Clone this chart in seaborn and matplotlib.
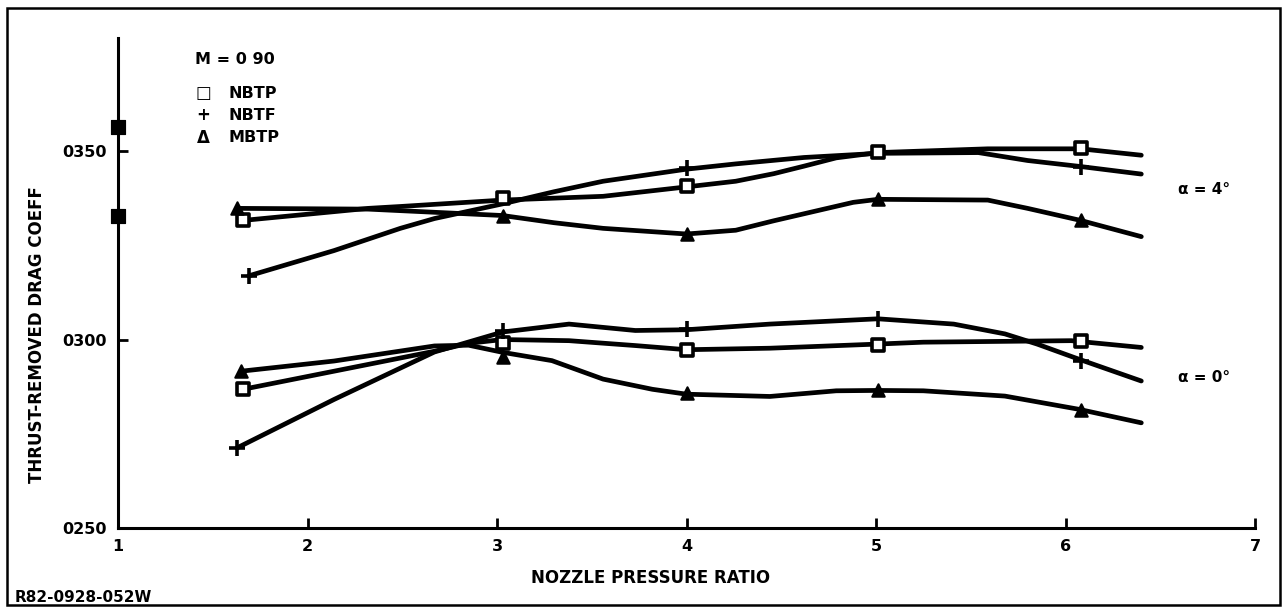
import matplotlib
matplotlib.use("Agg")
import matplotlib.pyplot as plt
import numpy as np
import pandas as pd
import seaborn as sns
from matplotlib.patches import Rectangle

sns.set_theme(style="ticks")
plt.rcParams["font.family"] = ["DejaVu Sans"]
plt.rcParams["font.weight"] = "bold"
plt.rcParams["text.color"] = "black"
plt.rcParams["axes.labelcolor"] = "black"

# x axis: nozzle pressure ratio, y axis: thrust-removed drag coefficient
x_ticks = [1, 2, 3, 4, 5, 6, 7]
y_ticks = [0.0250, 0.0300, 0.0350]
y_tick_labels = ["0250", "0300", "0350"]

configs = ["NBTP", "NBTF", "MBTP"]

# jet-off points at NPR = 1 (filled squares)
jet_off_npr = [1.0, 1.0]
jet_off_cd = [0.03564, 0.03329]

# test points, alpha = 4 deg
a4_nbtp_npr = [1.66, 3.03, 4.0, 5.01, 6.08]
a4_nbtp_cd = [0.03316, 0.03375, 0.03407, 0.03498, 0.03508]
a4_nbtf_npr = [1.69, 4.0, 6.08]
a4_nbtf_cd = [0.03169, 0.03455, 0.03459]
a4_mbtp_npr = [1.63, 3.03, 4.0, 5.01, 6.08]
a4_mbtp_cd = [0.03348, 0.03327, 0.03281, 0.03373, 0.03316]

# test points, alpha = 0 deg
a0_nbtp_npr = [1.66, 3.03, 4.0, 5.01, 6.08]
a0_nbtp_cd = [0.02868, 0.02992, 0.02972, 0.02985, 0.02996]
a0_nbtf_npr = [1.63, 3.03, 4.0, 5.01, 6.08]
a0_nbtf_cd = [0.02713, 0.03023, 0.03028, 0.03055, 0.02943]
a0_mbtp_npr = [1.65, 3.03, 4.0, 5.01, 6.08]
a0_mbtp_cd = [0.02916, 0.02955, 0.02857, 0.02865, 0.02812]

# faired curves
a4_nbtp_fx = [1.66, 2.32, 2.49, 3.03, 3.56, 4.0, 4.26, 4.46, 4.62, 4.79, 5.01, 5.59, 6.08, 6.40]
a4_nbtp_fy = [0.03316, 0.03348, 0.03353, 0.03370, 0.03380, 0.03405, 0.03420, 0.03440,
              0.03460, 0.03482, 0.03496, 0.03506, 0.03506, 0.03489]
a4_nbtf_fx = [1.69, 2.14, 2.49, 2.67, 3.03, 3.30, 3.56, 4.0, 4.26, 4.62, 5.01, 5.54, 5.80, 6.08, 6.40]
a4_nbtf_fy = [0.03169, 0.03236, 0.03295, 0.03321, 0.03360, 0.03392, 0.03420, 0.03452, 0.03466,
              0.03483, 0.03494, 0.03496, 0.03475, 0.03459, 0.03439]
a4_mbtp_fx = [1.63, 2.0, 2.32, 3.03, 3.30, 3.56, 4.0, 4.26, 4.46, 4.88, 5.01, 5.59, 5.80, 6.08, 6.40]
a4_mbtp_fy = [0.03348, 0.03347, 0.03346, 0.03329, 0.03310, 0.03295, 0.03280, 0.03290, 0.03315,
              0.03364, 0.03372, 0.03370, 0.03348, 0.03316, 0.03273]

a0_nbtp_fx = [1.66, 2.14, 2.67, 2.85, 3.03, 3.38, 3.73, 4.0, 4.44, 5.01, 5.25, 6.03, 6.40]
a0_nbtp_fy = [0.02868, 0.02916, 0.02969, 0.02990, 0.03000, 0.02997, 0.02984, 0.02973,
              0.02977, 0.02988, 0.02993, 0.02997, 0.02979]
a0_nbtf_fx = [1.63, 2.14, 2.67, 3.03, 3.38, 3.73, 4.0, 4.44, 5.01, 5.41, 5.68, 5.85, 6.07, 6.40]
a0_nbtf_fy = [0.02713, 0.02841, 0.02967, 0.03020, 0.03041, 0.03024, 0.03026, 0.03041,
              0.03055, 0.03041, 0.03015, 0.02988, 0.02948, 0.02890]
a0_mbtp_fx = [1.65, 2.14, 2.67, 2.85, 3.03, 3.29, 3.56, 3.82, 4.0, 4.44, 4.79, 5.01, 5.25,
              5.68, 6.07, 6.40]
a0_mbtp_fy = [0.02916, 0.02943, 0.02983, 0.02985, 0.02966, 0.02944, 0.02895, 0.02868,
              0.02855, 0.02849, 0.02864, 0.02865, 0.02864, 0.02850, 0.02815, 0.02779]

curves = pd.concat([
    pd.DataFrame({"npr": fx, "cd": fy, "curve": name})
    for name, fx, fy in [
        ("a4 NBTP", a4_nbtp_fx, a4_nbtp_fy), ("a4 NBTF", a4_nbtf_fx, a4_nbtf_fy),
        ("a4 MBTP", a4_mbtp_fx, a4_mbtp_fy), ("a0 NBTP", a0_nbtp_fx, a0_nbtp_fy),
        ("a0 NBTF", a0_nbtf_fx, a0_nbtf_fy), ("a0 MBTP", a0_mbtp_fx, a0_mbtp_fy),
    ]
], ignore_index=True)

W, H = 1286, 610
fig = plt.figure(figsize=(W / 100, H / 100), dpi=100)
ax = fig.add_axes([118 / W, 82 / H, (1255 - 118) / W, (528 - 38) / H])

sns.lineplot(data=curves, x="npr", y="cd", units="curve", estimator=None, sort=False,
             color="black", linewidth=3.4, ax=ax, legend=False)

ink = "black"
for npr, cd in [(a4_nbtp_npr, a4_nbtp_cd), (a0_nbtp_npr, a0_nbtp_cd)]:
    sns.scatterplot(x=npr, y=cd, marker="s", s=70, facecolor="white", edgecolor=ink,
                    linewidth=2.6, zorder=5, ax=ax)
for npr, cd in [(a4_nbtf_npr, a4_nbtf_cd), (a0_nbtf_npr, a0_nbtf_cd)]:
    sns.scatterplot(x=npr, y=cd, marker="+", s=120, color=ink, linewidth=2.6, zorder=5, ax=ax)
for npr, cd in [(a4_mbtp_npr, a4_mbtp_cd), (a0_mbtp_npr, a0_mbtp_cd)]:
    sns.scatterplot(x=npr, y=cd, marker="^", s=80, color=ink, edgecolor=ink,
                    linewidth=1.5, zorder=5, ax=ax)
sns.scatterplot(x=jet_off_npr, y=jet_off_cd, marker="s", s=110, color=ink, edgecolor=ink,
                zorder=6, clip_on=False, ax=ax)

ax.set_xlim(1, 7)
ax.set_ylim(0.0250, 0.0380)
ax.set_xticks(x_ticks)
ax.set_xticklabels([str(v) for v in x_ticks])
ax.set_yticks(y_ticks)
ax.set_yticklabels(y_tick_labels)
sns.despine(ax=ax)
for side in ["left", "bottom"]:
    ax.spines[side].set_linewidth(2.2)
    ax.spines[side].set_color(ink)
ax.tick_params(direction="in", length=7, width=2, colors=ink, labelcolor=ink,
               labelsize=11.5, pad=8)
for lab in ax.get_xticklabels() + ax.get_yticklabels():
    lab.set_fontweight("bold")
ax.grid(False)

ax.set_xlabel("NOZZLE PRESSURE RATIO", fontsize=12, fontweight="bold", color=ink,
              ha="center", va="center")
ax.xaxis.set_label_coords((651 - 118) / 1137, (528 - 578) / 490)
ax.set_ylabel("THRUST-REMOVED DRAG COEFF", fontsize=12, fontweight="bold", color=ink,
              ha="center", va="center")
ax.yaxis.set_label_coords((37 - 118) / 1137, (528 - 335) / 490)

def px(x, y):
    return x / W, 1 - y / H

fig.text(*px(195, 60), "M = 0 90", fontsize=11.5, fontweight="bold", va="center", ha="left", color=ink)
for row_y, sym, name in zip([93, 115, 138], ["\u25a1", "+", "\u0394"], configs):
    fig.text(*px(203, row_y), sym, fontsize=12, fontweight="bold", va="center", ha="center", color=ink)
    fig.text(*px(228, row_y), name, fontsize=11.5, fontweight="bold", va="center", ha="left", color=ink)

fig.text(*px(1178, 190), "\u03b1 = 4\u00b0", fontsize=11, fontweight="bold", va="center", ha="left", color=ink)
fig.text(*px(1178, 378), "\u03b1 = 0\u00b0", fontsize=11, fontweight="bold", va="center", ha="left", color=ink)
fig.text(*px(15, 598), "R82-0928-052W", fontsize=11, fontweight="bold", va="center", ha="left", color=ink)

fig.patches.append(Rectangle((7 / W, 1 - 605 / H), (1280 - 7) / W, (605 - 8) / H,
                             transform=fig.transFigure, fill=False, lw=1.8, ec=ink))

fig.savefig("out.png", dpi=100, facecolor="white")
